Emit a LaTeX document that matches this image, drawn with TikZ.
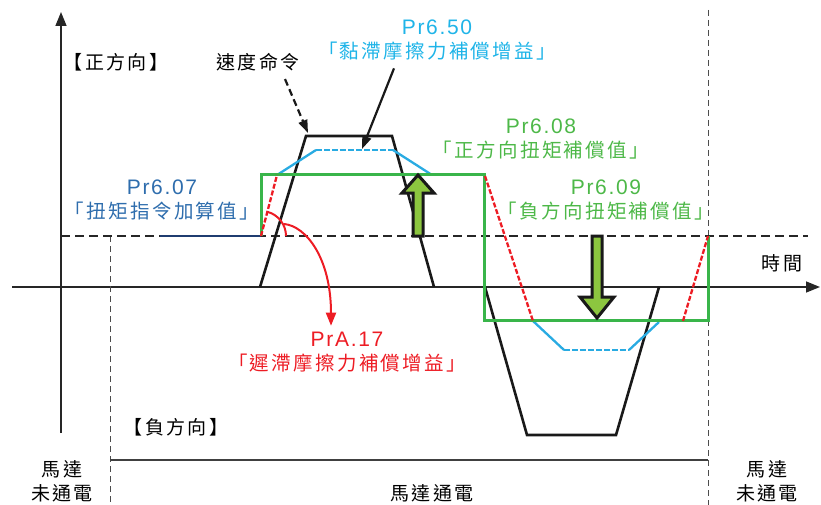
\documentclass[tikz,border=0pt]{standalone}
\usepackage{fontspec}
\setmainfont{Liberation Sans}
\newfontfamily\cjk[LetterSpace=12]{Noto Sans CJK TC}
\newfontfamily\prfont[LetterSpace=8]{Liberation Sans}
\usetikzlibrary{positioning,arrows.meta}
\definecolor{visccyan}{HTML}{29ABE2}
\definecolor{visctext}{HTML}{1FB4E8}
\definecolor{torqgreen}{HTML}{39B54A}
\definecolor{torqtext}{HTML}{4DB848}
\definecolor{hystred}{HTML}{ED1C24}
\definecolor{addblue}{HTML}{2E6DAD}
\definecolor{addnavy}{HTML}{1F3C70}
\definecolor{arrowfill}{HTML}{8CC63F}

\begin{document}
\begin{tikzpicture}[
    x=1pt, y=-1pt,
    axisline/.style={line width=1.5pt, black!85, -{Triangle[length=14pt,width=11pt]}},
    zeroline/.style={line width=2.5pt, black!85, dash pattern=on 9pt off 5pt},
    powerline/.style={line width=1pt, black!70, dash pattern=on 6pt off 4pt},
    cmdline/.style={line width=2.6pt, black!90},
    viscline/.style={line width=2.3pt, visccyan},
    torqline/.style={line width=3pt, torqgreen},
    hystline/.style={line width=2.3pt, hystred, dash pattern=on 5pt off 2pt},
    blockarrow/.style={line width=3pt, black!90, fill=arrowfill, line join=miter},
    cjklabel/.style={inner sep=0pt, align=center, font=\fontsize{19}{24}\selectfont\cjk},
    prlabel/.style={inner sep=0pt, align=center, font=\fontsize{19.5}{24}\selectfont}
]
\useasboundingbox (0,0) rectangle (821,505);

\node[cjklabel] (posdir) at (116,62) {【正方向】};
\node[cjklabel] (speed) at (258,62) {速度命令};
\node[cjklabel] (negdir) at (176,427) {【負方向】};
\node[cjklabel] (timelbl) at (782,263) {時間};
\node[cjklabel] (offleft) at (62,481) {馬達\\未通電};
\node[cjklabel] (powered) at (432,493) {馬達通電};
\node[cjklabel] (offright) at (767,481) {馬達\\未通電};

\node[prlabel, text=visctext] (p650) at (437,40) {{\prfont\fontsize{21}{24}\selectfont Pr6.50}\\{\cjk 「黏滯摩擦力補償增益」}};
\node[prlabel, text=torqtext] (p608) at (541,139) {{\prfont\fontsize{21}{24}\selectfont Pr6.08}\\{\cjk 「正方向扭矩補償值」}};
\node[prlabel, text=torqtext] (p609) at (606,200) {{\prfont\fontsize{21}{24}\selectfont Pr6.09}\\{\cjk 「負方向扭矩補償值」}};
\node[prlabel, text=addblue] (p607) at (162,200) {{\prfont\fontsize{21}{24}\selectfont Pr6.07}\\{\cjk 「扭矩指令加算值」}};
\node[prlabel, text=hystred] (pa17) at (347,352) {{\prfont\fontsize{21}{24}\selectfont PrA.17}\\{\cjk 「遲滯摩擦力補償增益」}};

\draw[axisline] (61,433) -- (61,12);
\draw[axisline] (12,287) -- (820,287);
\draw[powerline] (110,236) -- (110,505);
\draw[powerline] (708,10) -- (708,505);
\draw[line width=1.2pt, black!75] (110,460) -- (708,460);
\draw[zeroline] (61,236) -- (808,236);
\draw[line width=2.5pt, addnavy] (160,236) -- (261,236);

\coordinate (cmdtop) at (306,136);
\coordinate (viscmid) at (362,149);
\draw[cmdline] (260,287) -- (cmdtop) -- (392,136) -- (434,287);
\draw[cmdline] (485,287) -- (527,435) -- (616,435) -- (659,287);

\draw[viscline] (277,175) -- (316,150);
\draw[viscline, dash pattern=on 6pt off 2pt] (316,150) -- (393,150);
\draw[viscline] (393,150) -- (432,175);
\draw[viscline] (533,321) -- (564,350);
\draw[viscline, dash pattern=on 6pt off 2pt] (564,350) -- (629,350);
\draw[viscline] (629,350) -- (659,322);

\draw[torqline] (261,236) |- (484,175) |- (708,320) -- (708,236);

\draw[hystline] (261,236) -- (277,175);
\draw[hystline] (485,176) -- (533,321);
\draw[hystline] (683,321) -- (708,236);

\draw[blockarrow] (413,236) -- (413,193) -- (402,193) -- (418,175) -- (434,193) -- (423,193) -- (423,236) -- cycle;
\draw[blockarrow] (592,236) -- (592,297) -- (580,297) -- (597,318) -- (614,297) -- (602,297) -- (602,236) -- cycle;

\coordinate (hyststart) at (284,224);
\draw[line width=2pt, hystred] (261,236) ++(-75:25) arc[start angle=-75, end angle=0, radius=25];
\draw[line width=2pt, hystred, -{Triangle[length=13pt,width=10pt]}] (hyststart) .. controls (306,226) and (331,258) .. ([xshift=-16pt,yshift=6pt]pa17.north);

\draw[line width=2.2pt, black!90, dash pattern=on 7pt off 4pt, -{Triangle[length=13pt,width=9pt]}] ([xshift=27pt,yshift=-8pt]speed.south) -- ([xshift=2pt,yshift=3pt]cmdtop);
\draw[line width=2.2pt, black!90, -{Triangle[length=13pt,width=9pt]}] ([xshift=-43pt,yshift=-8pt]p650.south) -- (viscmid);
\end{tikzpicture}
\end{document}
